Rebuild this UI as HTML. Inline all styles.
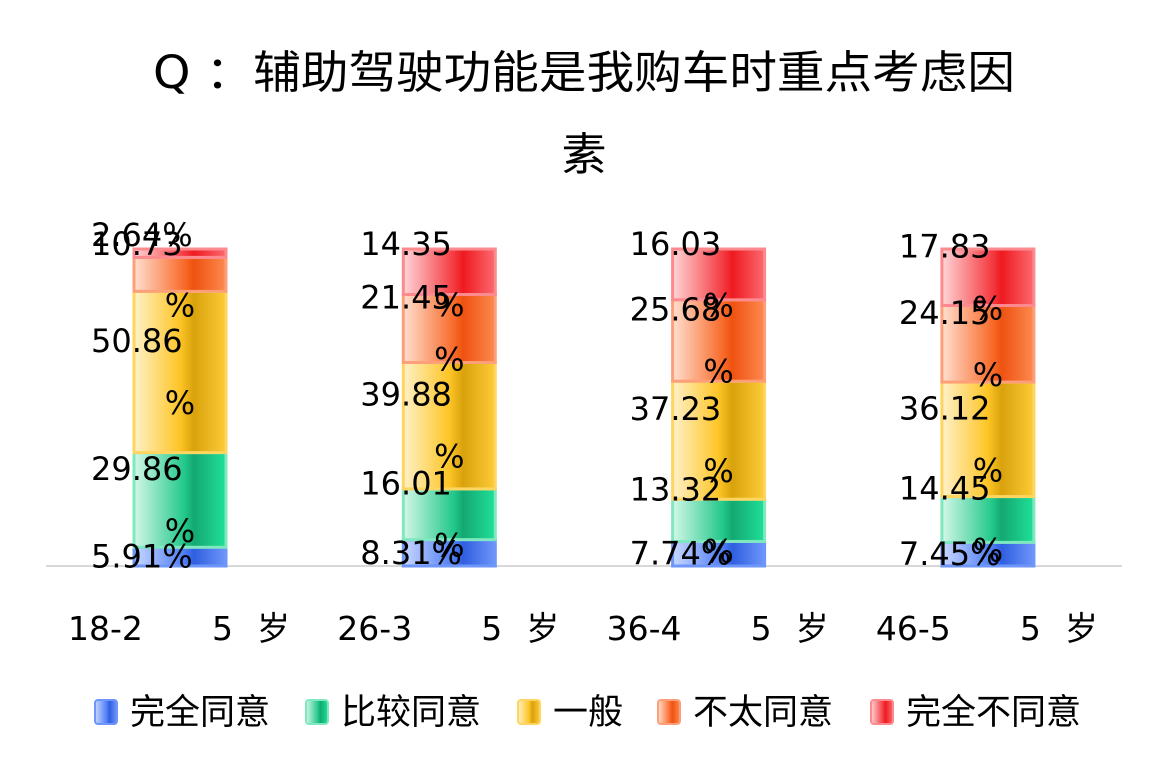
<!DOCTYPE html>
<html><head><meta charset="utf-8"><style>
html,body{margin:0;padding:0;background:#fff;}
svg text{font-family:"DejaVu Sans","Noto Sans CJK SC",sans-serif;fill:#000;}
</style></head><body>
<svg id="chart" width="1172" height="773" viewBox="0 0 1172 773" xmlns="http://www.w3.org/2000/svg">
<defs>
<linearGradient id="g0" x1="0" x2="1"><stop offset="0" stop-color="#c9d8ff"/><stop offset="0.55" stop-color="#4d7cf5"/><stop offset="0.65" stop-color="#2f5fe0"/><stop offset="1" stop-color="#6e95fa"/></linearGradient>
<linearGradient id="g1" x1="0" x2="1"><stop offset="0" stop-color="#d4f7e8"/><stop offset="0.55" stop-color="#22c88a"/><stop offset="0.65" stop-color="#14a872"/><stop offset="1" stop-color="#1fe098"/></linearGradient>
<linearGradient id="g2" x1="0" x2="1"><stop offset="0" stop-color="#fff1c8"/><stop offset="0.5" stop-color="#fdc526"/><stop offset="0.65" stop-color="#d9a20c"/><stop offset="1" stop-color="#fdcc38"/></linearGradient>
<linearGradient id="g3" x1="0" x2="1"><stop offset="0" stop-color="#ffe0d0"/><stop offset="0.55" stop-color="#f86a2a"/><stop offset="0.65" stop-color="#ee5210"/><stop offset="1" stop-color="#fd8a50"/></linearGradient>
<linearGradient id="g4" x1="0" x2="1"><stop offset="0" stop-color="#ffd6d8"/><stop offset="0.55" stop-color="#f43a40"/><stop offset="0.65" stop-color="#ee1a20"/><stop offset="1" stop-color="#fc6a70"/></linearGradient>
</defs>
<text x="153" y="88" font-size="45" textLength="862" lengthAdjust="spacingAndGlyphs">Q ：辅助驾驶功能是我购车时重点考虑因</text>
<text x="584" y="170" font-size="45" text-anchor="middle">素</text>
<line x1="46" y1="566" x2="1122" y2="566" stroke="#d8d8d8" stroke-width="2"/>
<g id="bars"></g>
<g id="labels"></g>
<g id="xlabels"></g>
<g id="legend"></g>
</svg>
<script>
const categories = ["18-25岁","26-35岁","36-45岁","46-55岁"];
const seriesNames = ["完全同意","比较同意","一般","不太同意","完全不同意"];
const s0 = [5.91, 8.31, 7.74, 7.45];
const s1 = [29.86, 16.01, 13.32, 14.45];
const s2 = [50.86, 39.88, 37.23, 36.12];
const s3 = [10.73, 21.45, 25.68, 24.15];
const s4 = [2.64, 14.35, 16.03, 17.83];
const series = [s0, s1, s2, s3, s4];
const borders = ["#6e95fa","#7fe8bf","#fdd560","#fda07a","#fc8a8e"];

const NS = "http://www.w3.org/2000/svg";
const baseY = 566, topY = 249, barW = 92;
function yScale(v){ return baseY - v/100*(baseY-topY); }
function xCenter(i){ return 180 + i*269.3; }
function mk(tag, attrs){ const e=document.createElementNS(NS,tag); for(const k in attrs) e.setAttribute(k,attrs[k]); return e; }
const bars=document.getElementById('bars'), labels=document.getElementById('labels'), xl=document.getElementById('xlabels'), lg=document.getElementById('legend');

categories.forEach((c,i)=>{
  const cx = xCenter(i);
  let cum=0;
  series.forEach((s,k)=>{
    const v=s[i];
    const y1=yScale(cum+v), y0=yScale(cum);
    const r=mk('rect',{x:cx-barW/2,y:y1,width:barW,height:y0-y1,fill:'url(#g'+k+')',stroke:borders[k],'stroke-width':3});
    
    
    bars.appendChild(r);
    const mid=(y1+y0)/2;
    const txt=v.toFixed(2).replace(/0$/,'').replace(/\.$/,'');
    const lx=cx-89;
    if(txt.length<=4){
      const yy = (k===series.length-1) ? topY-3 : mid+11;
      const t=mk('text',{x:lx,y:yy,'font-size':32});
      t.textContent=txt+'%';
      
      
      labels.appendChild(t);
    } else {
      const t=mk('text',{x:lx,y:Math.max(mid-20,255),'font-size':32});
      t.textContent=txt;
      
      
      labels.appendChild(t);
      const p=mk('text',{x:cx,y:Math.max(mid+42,316),'font-size':32,'text-anchor':'middle'});
      p.textContent='%';
      
      
      labels.appendChild(p);
    }
    cum+=v;
  });
  const m=c.match(/^(\d+-\d)(\d)(岁)$/);
  const g=mk('g',{});
  
  
  const a=mk('text',{x:cx-112,y:640,'font-size':33}); a.textContent=m[1]; g.appendChild(a);
  const b=mk('text',{x:cx+32,y:640,'font-size':33}); b.textContent=m[2]; g.appendChild(b);
  const d=mk('text',{x:cx+77,y:640,'font-size':33}); d.textContent=m[3]; g.appendChild(d);
  xl.appendChild(g);
});

const legX=[94,305,517,657,870];
seriesNames.forEach((n,k)=>{
  const g=mk('g',{});
  
  
  g.appendChild(mk('rect',{x:legX[k]+1,y:700,width:22,height:24,rx:3,fill:'url(#g'+k+')',stroke:borders[k],'stroke-width':2}));
  const t=mk('text',{x:legX[k]+36,y:724,'font-size':35}); t.textContent=n; g.appendChild(t);
  lg.appendChild(g);
});
</script>
</body></html>
